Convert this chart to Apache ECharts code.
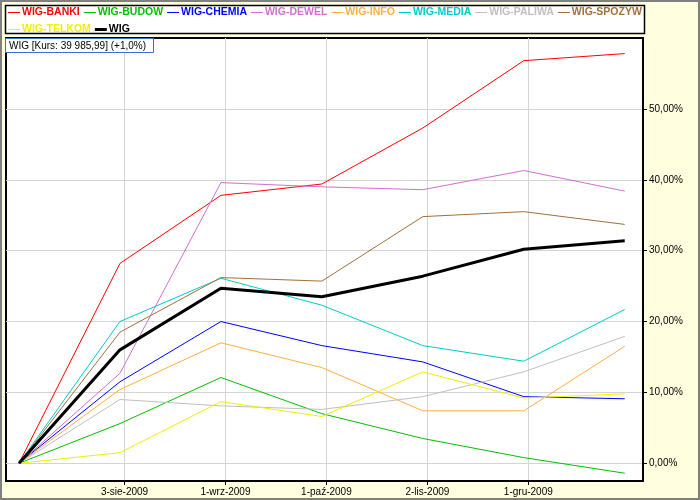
<!DOCTYPE html>
<html>
<head>
<meta charset="utf-8">
<script src="https://cdn.jsdelivr.net/npm/echarts@6.0.0/dist/echarts.min.js"></script>
<style>
html,body{margin:0;padding:0;background:#FFFFE0;}
#chart{width:700px;height:500px;}
</style>
</head>
<body>
<div id="chart"></div>
<script>
// ---- data ----
const pointIndex = [0, 1, 2, 3, 4, 5, 6];
const tickLabels = ['3-sie-2009', '1-wrz-2009', '1-paź-2009', '2-lis-2009', '1-gru-2009'];
const yTicks = [0, 10, 20, 30, 40, 50];
const seriesNames = ['WIG-BANKI', 'WIG-BUDOW', 'WIG-CHEMIA', 'WIG-DEWEL', 'WIG-INFO', 'WIG-MEDIA', 'WIG-PALIWA', 'WIG-SPOZYW', 'WIG-TELKOM', 'WIG'];
const wigBanki  = [0, 28.2, 37.8, 39.4, 47.3, 56.8, 57.8];
const wigBudow  = [0, 5.6, 12.1, 7.0, 3.5, 0.8, -1.4];
const wigChemia = [0, 11.5, 20.0, 16.6, 14.3, 9.4, 9.1];
const wigDewel  = [0, 12.7, 39.6, 39.0, 38.6, 41.3, 38.4];
const wigInfo   = [0, 10.4, 17.0, 13.5, 7.4, 7.4, 16.5];
const wigMedia  = [0, 20.0, 26.1, 22.3, 16.6, 14.4, 21.7];
const wigPaliwa = [0, 9.0, 8.1, 7.6, 9.4, 12.9, 17.9];
const wigSpozyw = [0, 18.5, 26.2, 25.7, 34.8, 35.5, 33.7];
const wigTelkom = [0, 1.5, 8.7, 6.6, 12.9, 9.2, 9.8];
const wig       = [0, 16.0, 24.7, 23.5, 26.4, 30.2, 31.4];
const infoText = 'WIG [Kurs: 39 985,99] (+1,0%)';

// ---- styles ----
const seriesValues = [wigBanki, wigBudow, wigChemia, wigDewel, wigInfo, wigMedia, wigPaliwa, wigSpozyw, wigTelkom, wig];
const colors = ['#FF0000', '#00C000', '#0000FF', '#D070D0', '#FFB040', '#00CCCC', '#C0C0C0', '#A0703C', '#F0F000', '#000000'];
const widths = [1, 1, 1, 1, 1, 1, 1, 1, 1, 3];
const TICK_OFFSET = 0.045;
const FONT = 'Arial, "Liberation Sans", sans-serif';
const THIN_ICON = 'path://M0,0L0,0M0,6H12V7H0ZM12,13L12,13';
const THICK_ICON = 'path://M0,0L0,0M0,5H12V8H0ZM12,13L12,13';

const chart = echarts.init(document.getElementById('chart'), null, {renderer: 'canvas'});

const series = seriesNames.map((n, s) => ({
  name: n,
  type: 'line',
  symbol: 'none',
  data: pointIndex.map((x, i) => [x, seriesValues[s][i]]),
  lineStyle: {color: colors[s], width: widths[s]},
  itemStyle: {color: colors[s]},
  emphasis: {disabled: true},
  z: 2 + s
}));

const xTickVals = tickLabels.map((_, i) => i + 1 + TICK_OFFSET);

chart.setOption({
  animation: false,
  backgroundColor: '#FFFFE0',
  textStyle: {fontFamily: FONT},
  grid: {
    left: 6, top: 38, right: 57, bottom: 19,
    show: true, backgroundColor: '#FFFFFF', borderColor: '#000000', borderWidth: 2
  },
  legend: {
    left: 8, top: 6, width: 680, padding: 0,
    itemWidth: 12, itemHeight: 13, itemGap: 4,
    selectedMode: false,
    itemStyle: {borderWidth: 0},
    textStyle: {fontFamily: FONT, fontWeight: 'bold', fontSize: 10.5, lineHeight: 13, padding: [0, 0, 0, -3]},
    data: seriesNames.map((n, s) => ({
      name: n,
      icon: widths[s] > 1 ? THICK_ICON : THIN_ICON,
      itemStyle: {color: colors[s], borderWidth: 0},
      textStyle: {color: colors[s]}
    }))
  },
  xAxis: {
    type: 'value',
    min: -0.129, max: 6.181,
    axisLine: {show: true, onZero: false, lineStyle: {color: '#000', width: 2}},
    axisTick: {show: true, customValues: xTickVals, length: 4, lineStyle: {color: '#000'}},
    axisLabel: {
      customValues: xTickVals, margin: 6, color: '#000', fontSize: 10, fontFamily: FONT,
      formatter: v => tickLabels[Math.round(v - 1 - TICK_OFFSET)]
    },
    splitLine: {show: true, lineStyle: {color: '#D4D4D4', width: 1}}
  },
  yAxis: {
    type: 'value',
    position: 'right',
    min: -2.5, max: 60,
    axisLine: {show: true, onZero: false, lineStyle: {color: '#000', width: 2}},
    axisTick: {show: true, customValues: yTicks, length: 4, lineStyle: {color: '#000'}},
    axisLabel: {
      customValues: yTicks, margin: 6, color: '#000', fontSize: 10, fontFamily: FONT,
      formatter: v => v.toFixed(2).replace('.', ',') + '%'
    },
    splitLine: {show: true, lineStyle: {color: '#D4D4D4', width: 1}}
  },
  graphic: [
    {type: 'rect', shape: {x: 1, y: 1, width: 698, height: 498}, style: {fill: null, stroke: '#808080', lineWidth: 2}, z: 100, silent: true},
    {type: 'rect', shape: {x: 5.5, y: 5.5, width: 639, height: 28}, style: {fill: '#FFFFFF', stroke: '#000000', lineWidth: 1.5}, z: -10, silent: true},
    {type: 'rect', shape: {x: 5.5, y: 38.5, width: 148, height: 14}, style: {fill: '#FFFFFF', stroke: '#3A6FC8', lineWidth: 1}, z: 100, silent: true},
    {type: 'text', x: 9, y: 46, style: {text: infoText, fill: '#000', font: '10px ' + FONT, textVerticalAlign: 'middle'}, z: 101, silent: true}
  ],
  series: series
});
</script>
</body>
</html>
